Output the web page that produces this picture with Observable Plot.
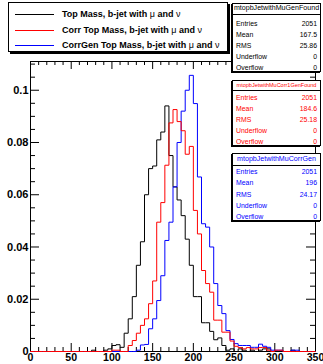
<!DOCTYPE html>
<html><head><meta charset="utf-8">
<script src="https://cdn.jsdelivr.net/npm/d3@7"></script>
<script src="https://cdn.jsdelivr.net/npm/@observablehq/plot@0.6"></script>
<style>
body{margin:0;background:#fff;}
#wrap{position:relative;width:323px;height:364px;overflow:hidden;font-family:"Liberation Sans",Arial,Helvetica,sans-serif;}
#wrap svg text{font-weight:bold;}
.legend{position:absolute;left:8px;top:2px;width:220px;height:50px;border:1px solid #000;background:#fff;box-sizing:border-box;box-shadow:2px 2px 0 #000;}
.lrow{position:absolute;left:0;height:14px;}
.lline{position:absolute;left:6px;width:39px;top:7px;height:0;border-top:1px solid;}
.ltext{position:absolute;left:53px;top:0;font-weight:bold;font-size:9px;line-height:14px;white-space:nowrap;color:#000;}
.ltext .g{font-weight:normal;}
.stats{position:absolute;left:232px;width:89px;border:1px solid #000;background:#fff;box-sizing:border-box;box-shadow:-1px 1px 0 #000;}
.stitle{position:absolute;left:0;right:0;top:0;text-align:center;white-space:nowrap;border-bottom:1px solid #000;}
.srow{position:absolute;left:3px;right:3px;font-size:6.9px;white-space:nowrap;}
.srow .v{position:absolute;right:0;top:0;}
</style></head><body><div id="wrap"></div>
<script>
// ---- data ----
const binWidth = 5;
const xTickLabels = [0, 50, 100, 150, 200, 250, 300, 350];
const xMinorTicks = [10,20,30,40,60,70,80,90,110,120,130,140,160,170,180,190,210,220,230,240,260,270,280,290,310,320,330,340];
const yTickLabels = [0, 0.02, 0.04, 0.06, 0.08, 0.1];
const yMinorTicks = [0.005,0.01,0.015,0.025,0.03,0.035,0.045,0.05,0.055,0.065,0.07,0.075,0.085,0.09,0.095,0.105,0.11];

// Top Mass, b-jet with mu and nu (black), bins of 5 from 0 to 350
const topMass = [
 0,0,0,0,0, 0,0,0,0,0, 0,0,0,0,0,
 0.0005,0,0,0.0005,0.001,
 0.0023,0.0026,0.0016,0.007,0.0125,
 0.021,0.033,0.042,0.060,0.070,
 0.071,0.081,0.084,0.094,0.075,
 0.063,0.058,0.052,0.043,0.033,
 0.021,0.021,0.011,0.011,0.0077,
 0.0045,0.0052,0.0023,0.0005,0.001,
 0,0.001,0.0005,0,0.0005,
 0,0.0005,0.001,0.001,0,
 0,0,0,0,0.0005, 0,0,0,0,0
];
// Corr Top Mass (red)
const corrTopMass = [
 0,0,0,0,0, 0,0,0,0,0, 0,0,0,0,0, 0,0,0,0,0,
 0.0005,0.0005,0,0,0.0023,
 0.0042,0.007,0.010,0.0125,0.0183,
 0.027,0.0495,0.057,0.0713,0.0875,
 0.0926,0.088,0.0845,0.0755,0.0785,
 0.054,0.045,0.031,0.026,0.0227,
 0.012,0.012,0.0074,0.0074,0.004,
 0.002,0.0015,0.001,0.0015,0.001,
 0.001,0.0015,0.0015,0.0005,0,
 0.0005,0.0005,0,0,0, 0,0,0,0,0
];
// CorrGen Top Mass (blue)
const corrGenTopMass = [
 0,0,0,0,0, 0,0,0,0,0, 0,0,0,0,0, 0,0,0,0,0, 0,0,0,0,0,
 0,0.0005,0.0025,0.0027,0.0087,
 0.0125,0.0195,0.029,0.0425,0.0495,
 0.063,0.080,0.092,0.100,0.1057,
 0.0949,0.0668,0.0489,0.0476,0.040,
 0.026,0.0176,0.0145,0.008,0.0046,
 0.003,0.0023,0.0023,0.0023,0.0016,
 0.0016,0.0028,0.002,0.0016,0.0005,
 0.0005,0.0005,0,0,0.0005, 0.0005,0,0,0,0
];
const seriesLabels = ["Top Mass, b-jet with", "Corr Top Mass, b-jet with", "CorrGen Top Mass, b-jet with"];
const seriesColors = ["#000000", "#ff0000", "#0000ff"];
const statsTitles = ["mtopbJetwithMuGenFound", "mtopbJetwithMuCorr1GenFound", "mtopbJetwithMuCorrGen"];
const statsEntries = ["2051", "2051", "2051"];
const statsMean = ["167.5", "184.6", "196"];
const statsRMS = ["25.86", "25.18", "24.17"];
const statsUnderflow = ["0", "0", "0"];
const statsOverflow = ["0", "0", "0"];

// ---- chart ----
const W = 323, H = 364, mL = 30, mR = 8, mT = 61, mB = 13;
const iw = W - mL - mR, ih = H - mT - mB;
function steps(vals, name) {
  const pts = vals.map((v, i) => ({x: i * binWidth, y: v, s: name}));
  pts.push({x: vals.length * binWidth, y: vals[vals.length - 1], s: name});
  return pts;
}
const fmtY = d => d === 0 ? "0" : String(+d.toFixed(2));
const chart = Plot.plot({
  width: W, height: H, marginLeft: mL, marginRight: mR, marginTop: mT, marginBottom: mB,
  x: {domain: [0, 350]},
  y: {domain: [0, 0.111]},
  style: {fontFamily: "Liberation Sans, Arial, Helvetica, sans-serif", background: "transparent", overflow: "visible"},
  marks: [
    Plot.frame({stroke: "#000"}),
    Plot.tickX(xTickLabels, {x: d => d, insetTop: ih - 8, stroke: "#000"}),
    Plot.tickX(xTickLabels, {x: d => d, insetBottom: ih - 8, stroke: "#000"}),
    Plot.tickX(xMinorTicks, {x: d => d, insetTop: ih - 4, stroke: "#000"}),
    Plot.tickX(xMinorTicks, {x: d => d, insetBottom: ih - 4, stroke: "#000"}),
    Plot.tickY(yTickLabels, {y: d => d, insetRight: iw - 9, stroke: "#000"}),
    Plot.tickY(yTickLabels, {y: d => d, insetLeft: iw - 9, stroke: "#000"}),
    Plot.tickY(yMinorTicks, {y: d => d, insetRight: iw - 5, stroke: "#000"}),
    Plot.tickY(yMinorTicks, {y: d => d, insetLeft: iw - 5, stroke: "#000"}),
    Plot.axisX(xTickLabels, {anchor: "bottom", tickSize: 0, tickPadding: 2, fontSize: 10.6, fontWeight: "bold", label: null, tickFormat: d => String(d)}),
    Plot.axisY(yTickLabels, {anchor: "left", tickSize: 0, tickPadding: 2, fontSize: 11, fontWeight: "bold", label: null, tickFormat: fmtY}),
    Plot.line(steps(topMass, "a"), {x: "x", y: "y", curve: "step-after", stroke: seriesColors[0], strokeWidth: 1}),
    Plot.line(steps(corrGenTopMass, "c"), {x: "x", y: "y", curve: "step-after", stroke: seriesColors[2], strokeWidth: 1}),
    Plot.line(steps(corrTopMass, "b"), {x: "x", y: "y", curve: "step-after", stroke: seriesColors[1], strokeWidth: 1})
  ]
});
const wrap = document.getElementById("wrap");
wrap.appendChild(chart);

// ---- legend ----
const leg = document.createElement("div");
leg.className = "legend";
const legRowTops = [4, 20, 35];
seriesLabels.forEach((lab, i) => {
  const r = document.createElement("div");
  r.className = "lrow";
  r.style.top = legRowTops[i] + "px";
  r.style.width = "100%";
  const ln = document.createElement("div");
  ln.className = "lline";
  ln.style.borderTopColor = seriesColors[i];
  const tx = document.createElement("div");
  tx.className = "ltext";
  tx.innerHTML = lab + " <span class='g'>\u03BC</span> and <span class='g'>\u03BD</span>";
  r.appendChild(ln); r.appendChild(tx);
  leg.appendChild(r);
});
wrap.appendChild(leg);

// ---- stats boxes ----
const boxGeom = [
  {top: 3, height: 69, head: 10.5, titleSize: 7.1, first: 19.5, step: 10.9},
  {top: 80, height: 66, head: 10, titleSize: 5.5, first: 16.8, step: 10.9},
  {top: 153, height: 68, head: 11.5, titleSize: 7.1, first: 17.8, step: 11.1}
];
statsTitles.forEach((t, i) => {
  const g = boxGeom[i];
  const b = document.createElement("div");
  b.className = "stats";
  b.style.top = g.top + "px";
  b.style.height = g.height + "px";
  b.style.color = seriesColors[i];
  const ti = document.createElement("div");
  ti.className = "stitle";
  ti.style.height = (g.head - 1) + "px";
  ti.style.lineHeight = (g.head - 1) + "px";
  ti.style.fontSize = g.titleSize + "px";
  ti.textContent = t;
  b.appendChild(ti);
  const rows = [["Entries", statsEntries[i]], ["Mean", statsMean[i]], ["RMS", statsRMS[i]], ["Underflow", statsUnderflow[i]], ["Overflow", statsOverflow[i]]];
  rows.forEach((rw, k) => {
    const r = document.createElement("div");
    r.className = "srow";
    const c = g.first + k * g.step;
    r.style.top = (c - 4.5) + "px";
    r.style.height = "9px";
    r.style.lineHeight = "9px";
    r.innerHTML = "<span>" + rw[0] + "</span><span class='v'>" + rw[1] + "</span>";
    b.appendChild(r);
  });
  wrap.appendChild(b);
});
</script>
</body></html>
